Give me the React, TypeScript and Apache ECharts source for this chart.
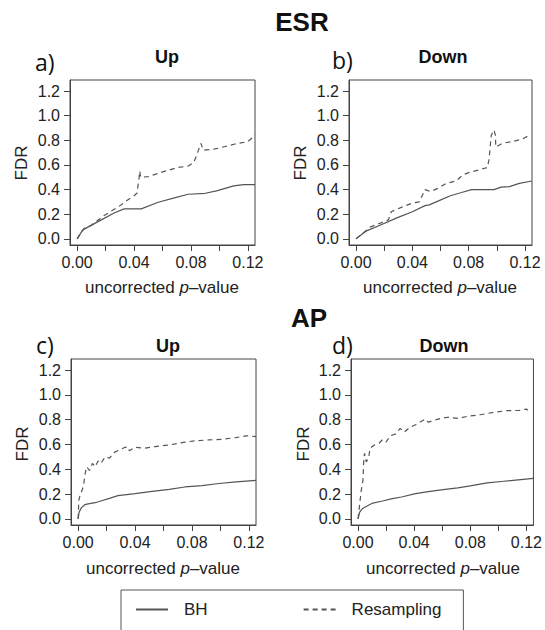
import React, { useEffect, useRef } from 'react';
import * as echarts from 'echarts';

// ---- data ----
const xTickValues = [0, 0.02, 0.04, 0.06, 0.08, 0.1, 0.12];
const xLabelValues = [0, 0.04, 0.08, 0.12];
const yTickValues = [0, 0.2, 0.4, 0.6, 0.8, 1.0, 1.2];
const seriesNames = ['BH', 'Resampling'];
const groupTitles = ['ESR', 'AP'];
const panelLetters = ['a)', 'b)', 'c)', 'd)'];
const panelTitles = ['Up', 'Down', 'Up', 'Down'];
const yAxisTitle = 'FDR';

const aBH = [[0, 0], [0.004, 0.073], [0.017, 0.154], [0.026, 0.21], [0.033, 0.243], [0.045, 0.243], [0.057, 0.297], [0.069, 0.335], [0.078, 0.362], [0.09, 0.37], [0.098, 0.39], [0.11, 0.43], [0.117, 0.44], [0.125, 0.44]];
const aRes = [[0, 0], [0.005, 0.086], [0.01, 0.11], [0.019, 0.19], [0.029, 0.26], [0.036, 0.32], [0.04, 0.35], [0.042, 0.37], [0.0435, 0.49], [0.044, 0.55], [0.0447, 0.5], [0.05, 0.505], [0.059, 0.54], [0.071, 0.58], [0.078, 0.59], [0.082, 0.62], [0.084, 0.68], [0.087, 0.775], [0.0887, 0.72], [0.097, 0.73], [0.104, 0.75], [0.111, 0.77], [0.12, 0.79], [0.123, 0.82], [0.1245, 0.85]];
const bBH = [[0, 0], [0.0075, 0.065], [0.017, 0.11], [0.029, 0.17], [0.04, 0.22], [0.049, 0.27], [0.052, 0.276], [0.059, 0.31], [0.067, 0.35], [0.075, 0.376], [0.082, 0.4], [0.098, 0.4], [0.103, 0.42], [0.109, 0.424], [0.116, 0.45], [0.125, 0.47]];
const bRes = [[0, 0], [0.01, 0.095], [0.017, 0.127], [0.023, 0.154], [0.025, 0.22], [0.033, 0.26], [0.04, 0.29], [0.045, 0.3], [0.049, 0.4], [0.053, 0.384], [0.058, 0.41], [0.064, 0.45], [0.071, 0.47], [0.076, 0.52], [0.0805, 0.54], [0.0875, 0.56], [0.0934, 0.58], [0.0946, 0.654], [0.096, 0.84], [0.098, 0.884], [0.099, 0.84], [0.0993, 0.745], [0.104, 0.776], [0.111, 0.79], [0.118, 0.81], [0.123, 0.84]];
const cBH = [[0, 0], [0.0007, 0.054], [0.0024, 0.09], [0.0047, 0.114], [0.008, 0.122], [0.012, 0.13], [0.016, 0.144], [0.022, 0.165], [0.028, 0.187], [0.04, 0.203], [0.052, 0.222], [0.064, 0.238], [0.075, 0.257], [0.087, 0.268], [0.099, 0.285], [0.111, 0.298], [0.125, 0.31]];
const cRes = [[0, 0], [0.0005, 0.15], [0.0016, 0.2], [0.003, 0.236], [0.004, 0.285], [0.0052, 0.38], [0.006, 0.42], [0.008, 0.39], [0.01, 0.447], [0.012, 0.42], [0.014, 0.466], [0.016, 0.447], [0.019, 0.5], [0.022, 0.49], [0.026, 0.54], [0.029, 0.556], [0.033, 0.577], [0.035, 0.58], [0.036, 0.55], [0.04, 0.577], [0.047, 0.57], [0.054, 0.583], [0.064, 0.596], [0.073, 0.615], [0.082, 0.63], [0.092, 0.637], [0.101, 0.642], [0.111, 0.656], [0.118, 0.67], [0.125, 0.664]];
const dBH = [[0, 0], [0.0012, 0.054], [0.003, 0.081], [0.0058, 0.1], [0.0105, 0.127], [0.0175, 0.144], [0.0245, 0.163], [0.031, 0.176], [0.041, 0.203], [0.05, 0.22], [0.062, 0.238], [0.071, 0.25], [0.08, 0.266], [0.092, 0.29], [0.104, 0.303], [0.125, 0.327]];
const dRes = [[0, 0], [0.0012, 0.12], [0.0023, 0.23], [0.0035, 0.31], [0.0042, 0.5], [0.0047, 0.528], [0.0058, 0.46], [0.0075, 0.49], [0.0086, 0.57], [0.0117, 0.596], [0.015, 0.61], [0.0175, 0.64], [0.02, 0.62], [0.023, 0.67], [0.027, 0.686], [0.03, 0.73], [0.033, 0.7], [0.036, 0.73], [0.041, 0.76], [0.048, 0.805], [0.05, 0.78], [0.057, 0.805], [0.064, 0.82], [0.071, 0.81], [0.078, 0.827], [0.087, 0.84], [0.097, 0.86], [0.106, 0.873], [0.115, 0.875], [0.12, 0.886], [0.121, 0.875]];

const bhData = [aBH, bBH, cBH, dBH];
const resData = [aRes, bRes, cRes, dRes];

// ---- layout ----
const grids = [
  { left: 70, top: 80, width: 185, height: 165 },
  { left: 349, top: 80, width: 183, height: 165 },
  { left: 71, top: 359, width: 185, height: 166 },
  { left: 351, top: 359, width: 184, height: 166 },
];
const letterPos = [[35, 62], [332, 60], [36, 345], [332, 345]];
const titlePos = [[167, 57], [443, 57], [168, 346], [444, 346]];
const fdrPos = [[21, 163], [300, 163], [22, 444], [303, 444]];
const xTitlePos = [[162, 287], [440, 287], [163, 568], [443, 568]];
const groupPos = [[302, 22], [309, 318]];

const LINE = '#555';
const AXIS = '#444';
const TXT = '#222';
const SANS = 'Liberation Sans, Arial, sans-serif';
const DASH = [5, 4];

export default function App() {
  const ref = useRef<HTMLDivElement>(null);
  useEffect(() => {
    if (!ref.current) return;
    const chart = echarts.init(ref.current, undefined, { renderer: 'svg' });

    const xAxis = grids.map((_, i) => ({
      type: 'value',
      gridIndex: i,
      min: -0.005,
      max: 0.125,
      splitLine: { show: false },
      axisLine: { show: true, onZero: false, lineStyle: { color: AXIS, width: 1 } },
      axisTick: { show: true, inside: false, length: 6, customValues: xTickValues, lineStyle: { color: AXIS } },
      axisLabel: {
        show: true, customValues: xLabelValues, margin: 9,
        formatter: (v: number) => v.toFixed(2),
        fontSize: 16, fontFamily: SANS, color: TXT,
      },
    }));
    const yAxis = grids.map((_, i) => ({
      type: 'value',
      gridIndex: i,
      min: -0.05,
      max: 1.29,
      splitLine: { show: false },
      axisLine: { show: true, onZero: false, lineStyle: { color: AXIS, width: 1 } },
      axisTick: { show: true, inside: false, length: 6, customValues: yTickValues, lineStyle: { color: AXIS } },
      axisLabel: {
        show: true, customValues: yTickValues, margin: 10,
        formatter: (v: number) => v.toFixed(1),
        fontSize: 16, fontFamily: SANS, color: TXT,
      },
    }));

    const series: any[] = [];
    grids.forEach((_, i) => {
      series.push({
        type: 'line', name: seriesNames[0], xAxisIndex: i, yAxisIndex: i,
        data: bhData[i], symbol: 'none', showSymbol: false,
        lineStyle: { color: LINE, width: 1.2, type: 'solid' }, itemStyle: { color: LINE },
      });
      series.push({
        type: 'line', name: seriesNames[1], xAxisIndex: i, yAxisIndex: i,
        data: resData[i], symbol: 'none', showSymbol: false,
        lineStyle: { color: LINE, width: 1.2, type: DASH }, itemStyle: { color: LINE },
      });
    });

    const graphics: any[] = [];
    groupTitles.forEach((t, i) => {
      graphics.push({
        type: 'text', x: groupPos[i][0], y: groupPos[i][1],
        style: { text: t, fontSize: 26, fontWeight: 'bold', fontFamily: SANS, fill: '#111', align: 'center', verticalAlign: 'middle' },
      });
    });
    grids.forEach((_, i) => {
      graphics.push({
        type: 'text', x: letterPos[i][0], y: letterPos[i][1],
        style: { text: panelLetters[i], fontSize: 23, fontFamily: 'Open Sans, sans-serif', fill: '#111', align: 'left', verticalAlign: 'middle' },
      });
      graphics.push({
        type: 'text', x: titlePos[i][0], y: titlePos[i][1],
        style: { text: panelTitles[i], fontSize: 18, fontWeight: 'bold', fontFamily: SANS, fill: '#111', align: 'center', verticalAlign: 'middle' },
      });
      graphics.push({
        type: 'text', x: fdrPos[i][0], y: fdrPos[i][1], rotation: Math.PI / 2,
        style: { text: yAxisTitle, fontSize: 17, fontFamily: SANS, fill: TXT, align: 'center', verticalAlign: 'middle' },
      });
      graphics.push({
        type: 'text', x: xTitlePos[i][0], y: xTitlePos[i][1],
        style: {
          text: '{n|uncorrected }{i|p}{n|–value}',
          align: 'center', verticalAlign: 'middle', fill: TXT,
          fontSize: 17, fontFamily: SANS,
          rich: {
            n: { fontSize: 17, fontFamily: SANS, fill: TXT },
            i: { fontSize: 17, fontFamily: SANS, fontStyle: 'italic', fill: TXT },
          },
        },
      });
    });

    chart.setOption({
      animation: false,
      backgroundColor: '#fff',
      grid: grids.map((g) => ({ ...g, show: true, borderColor: AXIS, borderWidth: 1, backgroundColor: 'transparent', containLabel: false })),
      xAxis,
      yAxis,
      series,
      legend: {
        data: seriesNames,
        left: 121, top: 590,
        orient: 'horizontal',
        padding: [11, 22, 30, 14],
        itemWidth: 32, itemHeight: 14, itemGap: 95,
        borderColor: '#555', borderWidth: 1,
        selectedMode: false,
        itemStyle: { opacity: 0 },
        textStyle: { fontSize: 17, fontFamily: SANS, color: TXT, padding: [0, 0, 0, 11] },
      },
      graphic: graphics,
    });
    return () => chart.dispose();
  }, []);

  return <div ref={ref} style={{ position: 'fixed', left: 0, top: 0, width: 545, height: 630 }} />;
}
